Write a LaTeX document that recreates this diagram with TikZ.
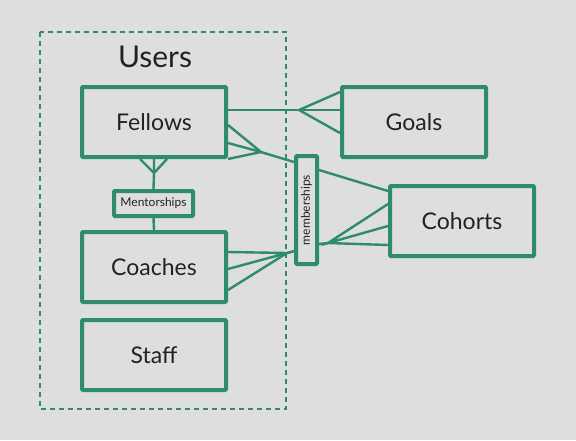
\documentclass[tikz,border=0pt]{standalone}
\usepackage{fontspec}
\setmainfont{Lato}
\usetikzlibrary{calc}
\definecolor{bg}{RGB}{222,222,222}
\definecolor{grn}{RGB}{46,139,111}
\definecolor{txt}{RGB}{34,34,34}
\tikzset{
  entity/.style={draw=grn, line width=4pt, rounded corners=1pt, minimum width=144pt, minimum height=70pt, inner sep=0pt, text=txt, font=\fontsize{23}{26}\selectfont},
  joinbox/.style={draw=grn, line width=4pt, rounded corners=1pt, inner sep=0pt, text=txt, font=\fontsize{12}{14}\selectfont},
  conn/.style={draw=grn, line width=2.4pt},
  group/.style={draw=grn, line width=2pt, dash pattern=on 5pt off 4pt}
}
\begin{document}
\begin{tikzpicture}[x=1pt,y=-1pt]
\fill[bg] (0,0) rectangle (576,440);
\useasboundingbox (0,0) rectangle (576,440);
\draw[group] (40,32) rectangle (286,409);
\node[text=txt, font=\fontsize{30}{34}\selectfont] (users) at (155,57) {Users};
\node[entity] (fellows) at (154,122) {Fellows};
\node[entity] (goals) at (414,122) {Goals};
\node[entity] (cohorts) at (462,221) {Cohorts};
\node[entity] (coaches) at (154,267) {Coaches};
\node[entity] (staff) at (154,355) {Staff};
\node[joinbox, minimum width=79pt, minimum height=25pt] (mentor) at (153.5,203.5) {Mentorships};
\node[joinbox, minimum width=21pt, minimum height=108pt] (member) at (306.5,210) {};
\node[text=txt, font=\fontsize{12}{14}\selectfont, rotate=90, inner sep=0pt] (memlabel) at (member.center) {memberships};
% Fellows - Goals
\coordinate (gj) at ($(goals.west)+(-41,-12)$);
\draw[conn] ($(fellows.east)+(0,-12)$) -- ($(goals.west)+(0,-12)$);
\draw[conn] ($(goals.west)+(0,-30)$) -- (gj) -- ($(goals.west)+(0,11)$);
% Fellows - memberships
\coordinate (fj) at ($(fellows.east)+(33,30)$);
\draw[conn] ($(fellows.east)+(0,3)$) -- (fj) -- ($(fellows.east)+(0,21)$);
\draw[conn] (fellows.south east) -- (fj) -- ($(member.west)+(0,-48)$);
% memberships - Cohorts
\draw[conn] ($(member.east)+(0,-40)$) -- ($(cohorts.west)+(0,-30)$);
\coordinate (cj) at ($(cohorts.west)+(-60,22)$);
\draw[conn] ($(member.east)+(0,34)$) -- (cj);
\draw[conn] ($(cohorts.west)+(0,-17)$) -- (cj) -- ($(cohorts.west)+(0,5)$);
\draw[conn] (cj) -- ($(cohorts.west)+(0,24)$);
% Coaches - memberships
\coordinate (kj) at ($(coaches.east)+(59,-14)$);
\draw[conn] ($(coaches.east)+(0,-15)$) -- (kj) -- ($(coaches.east)+(0,2)$);
\draw[conn] ($(coaches.east)+(0,23)$) -- (kj) -- ($(member.west)+(0,41)$);
% Fellows - Mentorships - Coaches
\coordinate (mj) at ($(fellows.south)+(0,14)$);
\draw[conn] ($(fellows.south)+(-14,0)$) -- (mj) -- ($(fellows.south)+(13,0)$);
\draw[conn] (fellows.south) -- (mj) -- (mentor.north);
\draw[conn] (mentor.south) -- (coaches.north);
\end{tikzpicture}
\end{document}
